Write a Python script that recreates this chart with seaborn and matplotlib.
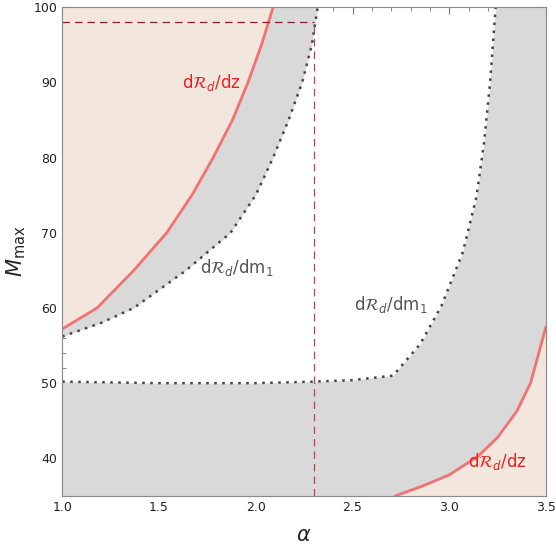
import numpy as np
import matplotlib
matplotlib.use("Agg")
import matplotlib.pyplot as plt
from matplotlib.ticker import MultipleLocator
import seaborn as sns

sns.set_style("ticks")

# upper-left curves (alpha as function of M)
ul_red_M = [57.2, 60.0, 65.0, 70.0, 75.0, 80.0, 85.0, 90.0, 95.0, 100.0]
ul_red_a = [1.0, 1.18, 1.37, 1.54, 1.67, 1.78, 1.88, 1.96, 2.03, 2.09]
ul_dot_M = [56.2, 58.0, 60.0, 65.0, 70.0, 75.0, 80.0, 85.0, 90.0, 95.0, 100.0]
ul_dot_a = [1.0, 1.2, 1.37, 1.64, 1.87, 2.0, 2.09, 2.17, 2.24, 2.29, 2.32]
# lower/right dotted boundary (M as function of alpha)
lr_dot_a = [1.0, 1.5, 2.0, 2.3, 2.5, 2.71, 2.85, 2.96, 3.07, 3.14, 3.18, 3.21, 3.24, 3.5]
lr_dot_M = [50.2, 50.0, 50.0, 50.2, 50.4, 51.0, 55.2, 60.3, 67.4, 74.7, 82.0, 89.7, 100.0, 100.0]
# bottom-right red curve
br_red_a = [2.72, 2.85, 3.0, 3.15, 3.25, 3.35, 3.42, 3.5]
br_red_M = [35.0, 36.2, 37.8, 40.3, 42.8, 46.3, 50.0, 57.5]

beige = "#f2e6dd"
gray = "#d9d9d9"
red = "#f07272"

fig, ax = plt.subplots(figsize=(5.56, 5.45), dpi=100)

M = np.linspace(56.2, 100, 400)
xr = np.maximum(np.interp(M, ul_red_M, ul_red_a, left=1.0), 1.0)
xd = np.interp(M, ul_dot_M, ul_dot_a)
ax.fill_betweenx(M, 1.0, xr, color=beige, lw=0)
ax.fill_betweenx(M, xr, xd, color=gray, lw=0)

a = np.linspace(1.0, 3.5, 600)
yd = np.interp(a, lr_dot_a, lr_dot_M)
ax.fill_between(a, 35, yd, color=gray, lw=0)
ab = np.linspace(2.72, 3.5, 200)
ax.fill_between(ab, 35, np.interp(ab, br_red_a, br_red_M), color=beige, lw=0)

sns.lineplot(x=ul_red_a, y=ul_red_M, ax=ax, color=red, lw=2, sort=False, estimator=None)
sns.lineplot(x=br_red_a, y=br_red_M, ax=ax, color=red, lw=2, sort=False, estimator=None)
ax.plot(ul_dot_a, ul_dot_M, color="#444444", lw=1.8, ls=(0, (1, 2.2)))
ax.plot(lr_dot_a[:-1], lr_dot_M[:-1], color="#444444", lw=1.8, ls=(0, (1, 2.2)))

ax.plot([1.0, 2.3], [98, 98], color="#8b2020", lw=0.9, ls=(0, (6, 4)))
ax.plot([2.3, 2.3], [35, 98], color="#c04050", lw=0.9, ls=(0, (6, 4)))

ax.text(1.77, 90, r"d$\mathcal{R}_d$/dz", color="#ee2020", fontsize=12, ha="center", va="center")
ax.text(3.25, 39.6, r"d$\mathcal{R}_d$/dz", color="#ee2020", fontsize=12, ha="center", va="center")
ax.text(1.90, 65.4, r"d$\mathcal{R}_d$/dm$_1$", color="#555555", fontsize=12, ha="center", va="center")
ax.text(2.70, 60.5, r"d$\mathcal{R}_d$/dm$_1$", color="#555555", fontsize=12, ha="center", va="center")

ax.set_xlim(1.0, 3.5)
ax.set_ylim(35, 100)
ax.set_xticks([1.0, 1.5, 2.0, 2.5, 3.0, 3.5])
ax.set_yticks([40, 50, 60, 70, 80, 90, 100])
ax.xaxis.set_minor_locator(MultipleLocator(0.1))
ax.yaxis.set_minor_locator(MultipleLocator(2))
ax.tick_params(which="both", direction="in", top=True, right=True, colors="#777777",
               labelcolor="#222222", labelsize=9)
ax.tick_params(which="major", length=5)
ax.tick_params(which="minor", length=3)
ax.set_xlabel(r"$\alpha$", fontsize=15, labelpad=8)
ax.set_ylabel(r"$M_{\rm max}$", fontsize=15, labelpad=4)
for s in ax.spines.values():
    s.set_visible(True)
    s.set_color("#888888")
plt.subplots_adjust(left=0.112, right=0.982, bottom=0.09, top=0.987)
fig.savefig("out.png", dpi=100)
